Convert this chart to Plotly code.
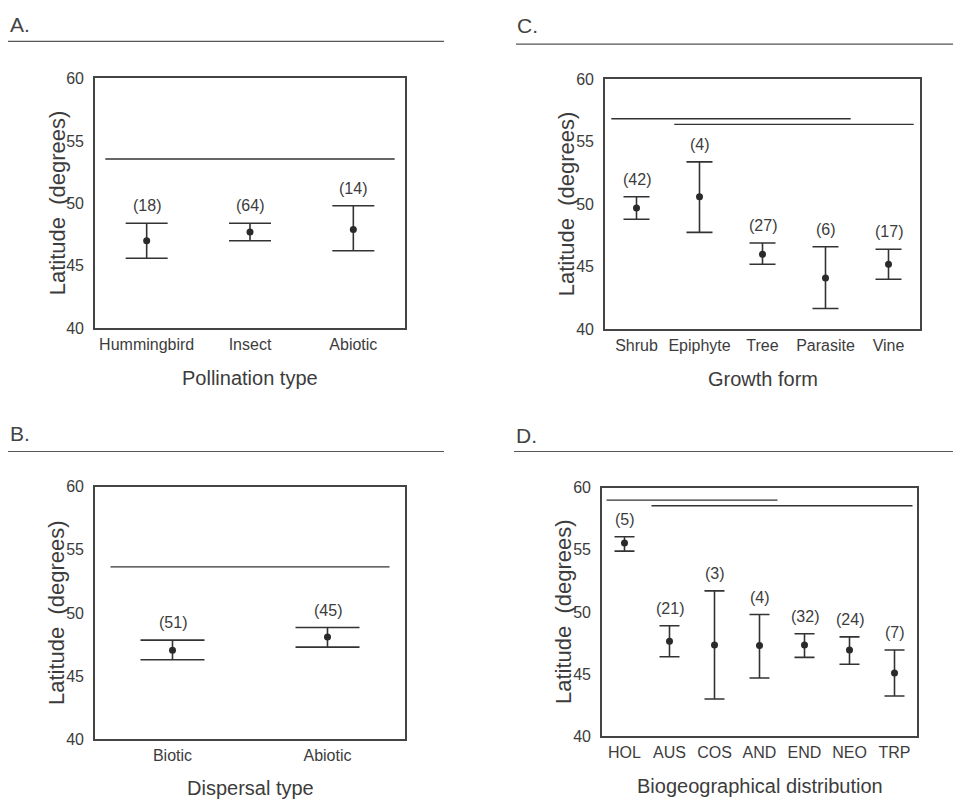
import plotly.graph_objects as go

# ---------------- data ----------------
pollination_types = ["Hummingbird", "Insect", "Abiotic"]
pollination_mean = [47.0, 47.7, 47.9]
pollination_upper = [48.4, 48.4, 49.8]
pollination_lower = [45.6, 47.0, 46.2]
pollination_n = [18, 64, 14]
pollination_groups = [("Hummingbird", "Abiotic", 53.55)]

dispersal_types = ["Biotic", "Abiotic"]
dispersal_mean = [47.05, 48.1]
dispersal_upper = [47.85, 48.85]
dispersal_lower = [46.3, 47.3]
dispersal_n = [51, 45]
dispersal_groups = [("Biotic", "Abiotic", 53.65)]

growth_forms = ["Shrub", "Epiphyte", "Tree", "Parasite", "Vine"]
growth_mean = [49.7, 50.6, 46.0, 44.1, 45.2]
growth_upper = [50.6, 53.4, 46.9, 46.6, 46.4]
growth_lower = [48.8, 47.75, 45.2, 41.65, 44.0]
growth_n = [42, 4, 27, 6, 17]
growth_groups = [("Shrub", "Parasite", 56.85), ("Epiphyte", "Vine", 56.4)]

distributions = ["HOL", "AUS", "COS", "AND", "END", "NEO", "TRP"]
dist_mean = [55.55, 47.65, 47.35, 47.3, 47.35, 46.95, 45.1]
dist_upper = [56.05, 48.9, 51.7, 49.8, 48.25, 48.0, 46.95]
dist_lower = [54.9, 46.4, 43.0, 44.7, 46.35, 45.8, 43.25]
dist_n = [5, 21, 3, 4, 32, 24, 7]
dist_groups = [("HOL", "AND", 59.0), ("AUS", "TRP", 58.55)]

y_ticks = [40, 45, 50, 55, 60]

# ---------------- layout helpers ----------------
W, H = 953, 809
FONT = "Liberation Sans, Arial, Helvetica, sans-serif"
TXT = "#3c3c3c"
LINE = "#333333"


def px(x):
    return x / W


def py(y):
    return 1 - y / H


panels = [
    dict(letter="A.", xlabel="Pollination type", cats=pollination_types, mean=pollination_mean,
         up=pollination_upper, lo=pollination_lower, n=pollination_n, groups=pollination_groups,
         box=(95, 405, 72, 327), cap=21, letter_xy=(8, 17), sep=(8, 444, 34),
         xlab_y=378, ylab_x=57),
    dict(letter="C.", xlabel="Growth form", cats=growth_forms, mean=growth_mean,
         up=growth_upper, lo=growth_lower, n=growth_n, groups=growth_groups,
         box=(605, 920, 73, 328), cap=13, letter_xy=(515, 18), sep=(516, 953, 37),
         xlab_y=379, ylab_x=566),
    dict(letter="B.", xlabel="Dispersal type", cats=dispersal_types, mean=dispersal_mean,
         up=dispersal_upper, lo=dispersal_lower, n=dispersal_n, groups=dispersal_groups,
         box=(95, 405, 489, 747), cap=32, letter_xy=(8, 435), sep=(8, 444, 453),
         xlab_y=797, ylab_x=56),
    dict(letter="D.", xlabel="Biogeographical distribution", cats=distributions, mean=dist_mean,
         up=dist_upper, lo=dist_lower, n=dist_n, groups=dist_groups,
         box=(602, 917, 490, 744), cap=10, letter_xy=(514, 437), sep=(514, 953, 453),
         xlab_y=795, ylab_x=563),
]

fig = go.Figure()
annotations = []
shapes = []

for i, p in enumerate(panels, start=1):
    xa = "x" if i == 1 else f"x{i}"
    ya = "y" if i == 1 else f"y{i}"
    xl, xr, yt, yb = p["box"]
    idx = list(range(len(p["cats"])))

    # homogeneous-subset lines
    for (c0, c1, level) in p["groups"]:
        i0, i1 = p["cats"].index(c0), p["cats"].index(c1)
        fig.add_trace(go.Scatter(
            x=[i0 - 0.4, i1 + 0.4], y=[level, level], mode="lines",
            line=dict(color=LINE, width=1.4), xaxis=xa, yaxis=ya,
            showlegend=False, hoverinfo="skip"))

    # means with error bars
    plus = [u - m for u, m in zip(p["up"], p["mean"])]
    minus = [m - l for m, l in zip(p["mean"], p["lo"])]
    fig.add_trace(go.Scatter(
        x=idx, y=p["mean"], mode="markers",
        marker=dict(color="#2a2a2a", size=7),
        error_y=dict(type="data", array=plus, arrayminus=minus, symmetric=False,
                     color=LINE, thickness=1.6, width=p["cap"]),
        xaxis=xa, yaxis=ya, showlegend=False))

    # n labels
    for k, (u, nn) in enumerate(zip(p["up"], p["n"])):
        annotations.append(dict(
            x=k, y=u, xref=xa, yref=ya, text=f"({nn})", showarrow=False,
            yanchor="bottom", yshift=7, font=dict(family=FONT, size=16, color=TXT)))

    axis_common = dict(showline=True, mirror=True, linecolor="#444444", linewidth=1.6,
                       showgrid=False, zeroline=False, ticks="",
                       tickfont=dict(family=FONT, size=16, color=TXT))
    fig.layout[("xaxis" if i == 1 else f"xaxis{i}")] = dict(
        domain=[px(xl), px(xr)], anchor=ya, range=[-0.5, len(idx) - 0.5],
        tickmode="array", tickvals=idx, ticktext=p["cats"], ticklabelstandoff=1,
        **axis_common)
    fig.layout[("yaxis" if i == 1 else f"yaxis{i}")] = dict(
        domain=[py(yb), py(yt)], anchor=xa, range=[40, 60],
        tickmode="array", tickvals=y_ticks, ticklabelstandoff=6,
        **axis_common)

    # axis titles
    annotations.append(dict(
        x=px((xl + xr) / 2), y=py(p["xlab_y"]), xref="paper", yref="paper",
        text=p["xlabel"], showarrow=False, xanchor="center", yanchor="middle",
        font=dict(family=FONT, size=20, color=TXT)))
    annotations.append(dict(
        x=px(p["ylab_x"]), y=py((yt + yb) / 2), xref="paper", yref="paper",
        text="Latitude  (degrees)", showarrow=False, textangle=-90,
        xanchor="center", yanchor="middle",
        font=dict(family=FONT, size=22, color=TXT)))

    # panel letter + separator line
    lx, ly = p["letter_xy"]
    annotations.append(dict(
        x=px(lx), y=py(ly), xref="paper", yref="paper", text=p["letter"],
        showarrow=False, xanchor="left", yanchor="middle",
        font=dict(family=FONT, size=21, color="#444444")))
    sx0, sx1, sy = p["sep"]
    shapes.append(dict(type="line", xref="paper", yref="paper",
                       x0=px(sx0), x1=px(sx1), y0=py(sy), y1=py(sy),
                       line=dict(color="#555555", width=1.2)))

fig.update_layout(
    width=W, height=H, margin=dict(l=0, r=0, t=0, b=0),
    paper_bgcolor="white", plot_bgcolor="white",
    annotations=annotations, shapes=shapes, showlegend=False,
    font=dict(family=FONT, color=TXT),
)

# remove the browser's default 8px body margin so the figure sits at (0, 0)
fig.write_html("out.html", config={"displayModeBar": False},
               post_script="document.body.style.margin='0';")
